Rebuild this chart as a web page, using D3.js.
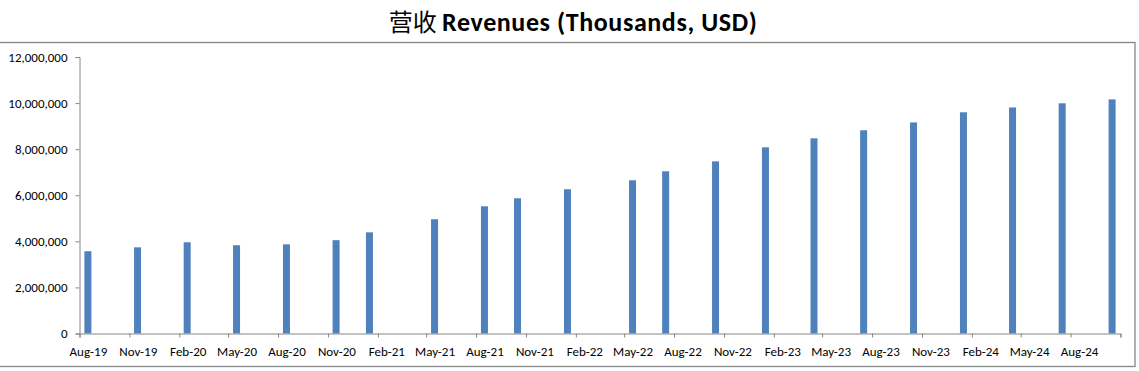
<!DOCTYPE html>
<meta charset="utf-8">
<script src="https://d3js.org/d3.v7.min.js"></script>
<style>
  body { margin: 0; background: #fff; }
  svg { display: block; }
</style>
<body>
<div id="chart"></div>
<script>
  // report months (first of month) and revenues in thousands USD
  var months = ["2019-08", "2019-11", "2020-02", "2020-05", "2020-08", "2020-11", "2021-01",
    "2021-05", "2021-08", "2021-10", "2022-01", "2022-05", "2022-07", "2022-10",
    "2023-01", "2023-04", "2023-07", "2023-10", "2024-01", "2024-04", "2024-07", "2024-10"];
  var revenues = [3570000, 3740000, 3960000, 3830000, 3870000, 4050000, 4390000,
    4960000, 5520000, 5870000, 6260000, 6650000, 7040000, 7470000,
    8080000, 8470000, 8820000, 9160000, 9600000, 9810000, 9990000, 10160000];
  var yTicks = [0, 2000000, 4000000, 6000000, 8000000, 10000000, 12000000];
  var axisStart = "2019-08", axisEnd = "2024-11";

  var width = 1139, height = 371;
  var plotLeft = 79.5, plotRight = 1120.5, plotTop = 57, plotBottom = 333.5;
  var parse = d3.timeParse("%Y-%m");
  var fmt = d3.timeFormat("%b-%y");
  var font = "Carlito, Lato, 'Liberation Sans', sans-serif";

  var data = months.map(function (m, i) { return { date: parse(m), value: revenues[i] }; });

  var svg = d3.select("#chart").append("svg")
    .attr("width", width)
    .attr("height", height);

  // chart border
  svg.append("rect")
    .attr("x", -1).attr("y", 42.5)
    .attr("width", 1136).attr("height", 324)
    .attr("fill", "none").attr("stroke", "#868686").attr("stroke-width", 1.3);

  // title
  var title = svg.append("text")
    .attr("x", 573).attr("y", 31)
    .attr("text-anchor", "middle")
    .attr("fill", "#000");
  title.append("tspan").attr("font-family", "'Noto Sans CJK SC'").attr("font-size", "24px").text("营收 ");
  title.append("tspan").attr("font-family", font).attr("font-size", "26px")
    .attr("font-weight", "bold").attr("letter-spacing", "0.6px").text("Revenues (Thousands, USD)");

  var x = d3.scaleTime()
    .domain([parse(axisStart), parse(axisEnd)])
    .range([plotLeft, plotRight]);

  var y = d3.scaleLinear()
    .domain([0, 12000000])
    .range([plotBottom, plotTop]);

  // quarterly ticks starting at Aug-19
  var nQuarters = Math.round(d3.timeMonth.count(parse(axisStart), parse(axisEnd)) / 3);
  var quarterTicks = d3.range(nQuarters + 1).map(function (i) {
    return d3.timeMonth.offset(parse(axisStart), i * 3);
  });

  // y axis
  var yAxis = svg.append("g")
    .attr("transform", "translate(" + plotLeft + ",0)")
    .call(d3.axisLeft(y).tickValues(yTicks).tickSize(4).tickPadding(8).tickFormat(d3.format(",")));
  yAxis.selectAll("text").attr("font-family", font).attr("font-size", "13px").attr("fill", "#000");

  // bars, centred in their month slot
  svg.append("g")
    .selectAll("rect")
    .data(data)
    .enter()
    .append("rect")
    .attr("x", function (d) {
      var c = (x(d.date) + x(d3.timeMonth.offset(d.date, 1))) / 2;
      return c - 3.5;
    })
    .attr("width", 7)
    .attr("y", function (d) { return y(d.value); })
    .attr("height", function (d) { return plotBottom - y(d.value); })
    .attr("fill", "#4F81BD");

  // x axis
  var slot = x(parse("2019-09")) - x(parse("2019-08"));
  var xAxis = svg.append("g")
    .attr("transform", "translate(0," + plotBottom + ")")
    .call(d3.axisBottom(x).tickValues(quarterTicks).tickSize(4).tickPadding(9)
      .tickFormat(function (d) { return d >= parse(axisEnd) ? "" : fmt(d); }));
  xAxis.selectAll("text")
    .attr("x", slot / 2)
    .attr("font-family", font).attr("font-size", "13px").attr("fill", "#000");

  svg.selectAll(".domain, .tick line").attr("stroke", "#868686");
</script>
</body>
